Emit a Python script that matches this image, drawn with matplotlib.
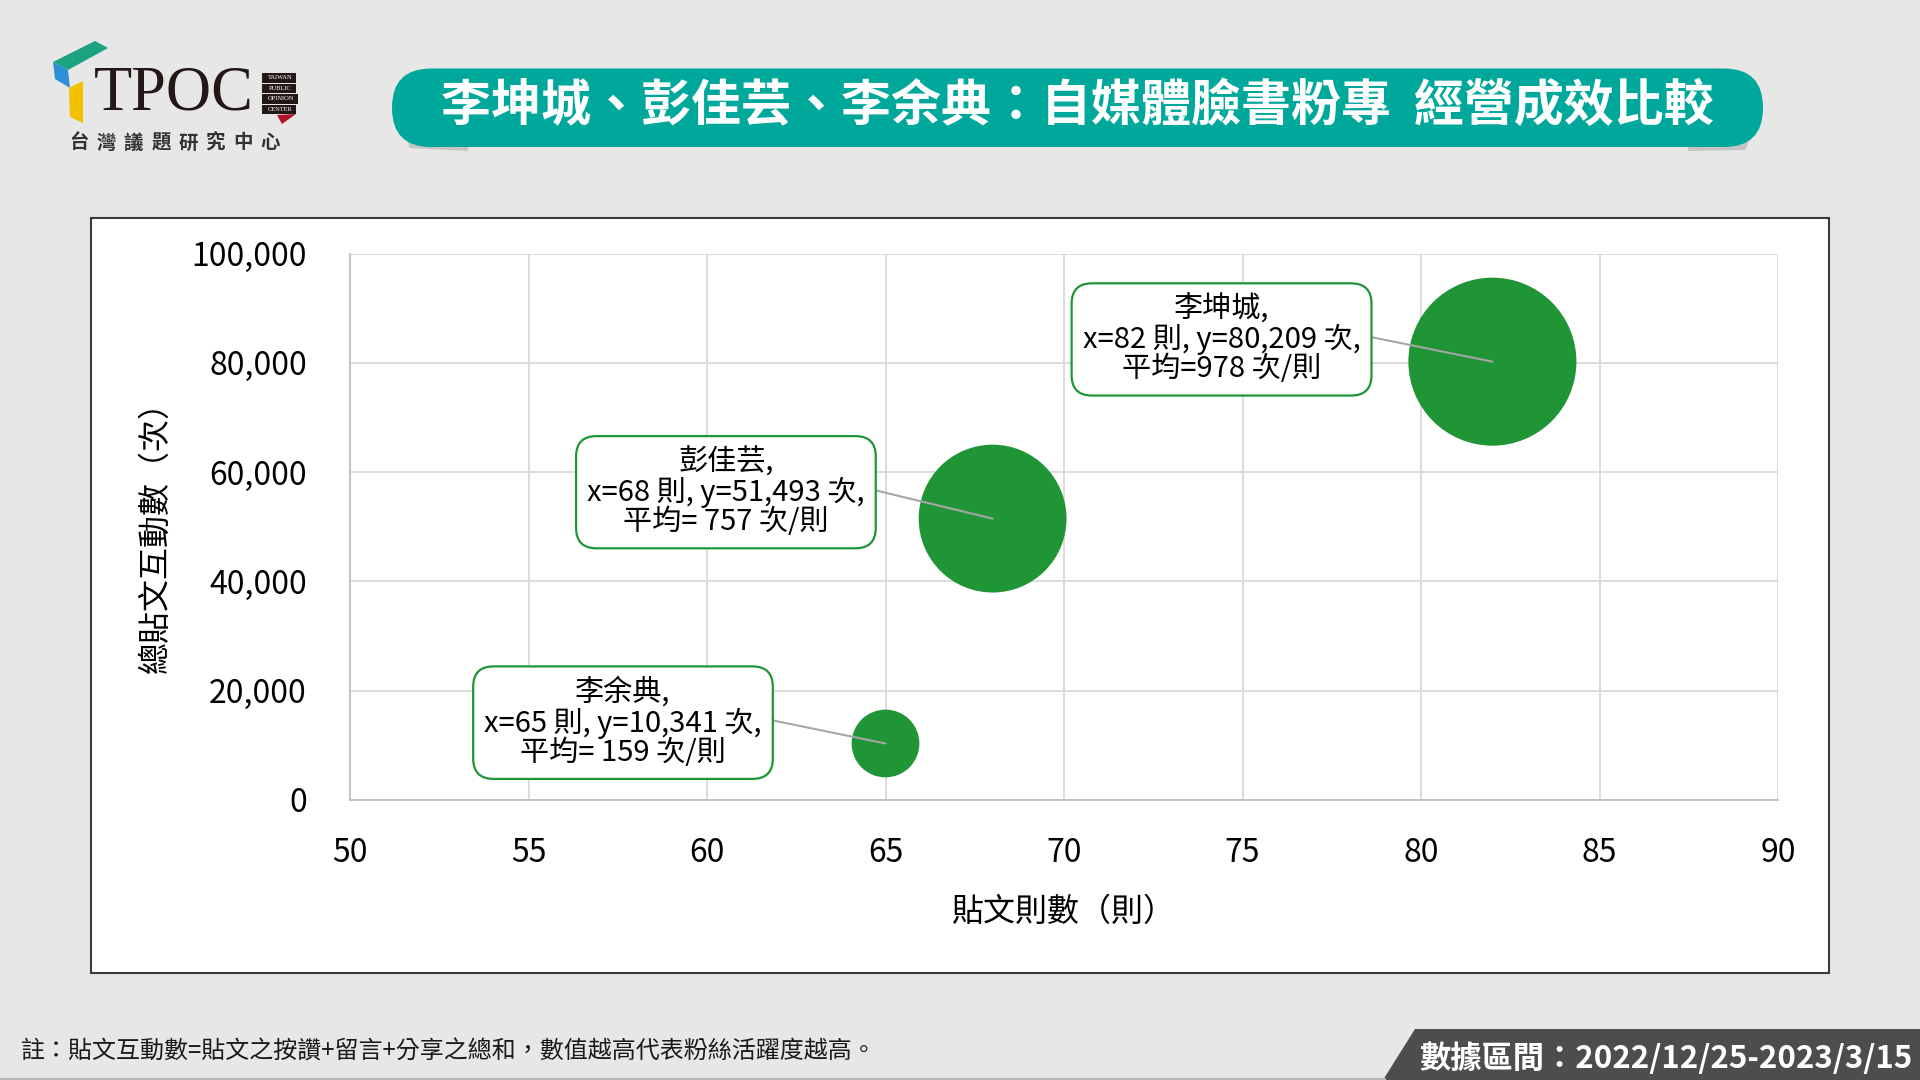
# coding=utf-8
#
# Description: TPOC bubble chart - posts vs. interactions (bubble = avg per post)
#
import numpy as np
import matplotlib as mpl
import matplotlib.pyplot as plt
from matplotlib.patches import FancyBboxPatch, Polygon, Rectangle
from matplotlib.ticker import FuncFormatter

mpl.rcParams['font.family'] = ['Noto Sans CJK TC', 'DejaVu Sans']

# Data
names = ['李坤城', '彭佳芸', '李余典']
posts = [82, 68, 65]
interactions = [80209, 51493, 10341]
avg_per_post = [978, 757, 159]
avg_text = ['978', ' 757', ' 159']

title = '李坤城、彭佳芸、李余典：自媒體臉書粉專  經營成效比較'
xlabel = '貼文則數（則）'
ylabel = '總貼文互動數（次）'
note = '註：貼文互動數=貼文之按讚+留言+分享之總和，數值越高代表粉絲活躍度越高。'
period = '數據區間：2022/12/25-2023/3/15'
x_ticks = [50, 55, 60, 65, 70, 75, 80, 85, 90]
y_ticks = [0, 20000, 40000, 60000, 80000, 100000]

if __name__ == '__main__':

    bg = '#E7E7E7'
    teal = '#00A79B'
    green = '#209536'

    fig = plt.figure(figsize=(19.2, 10.8), dpi=100, facecolor=bg)

    #
    # Decoration layer in pixel coordinates
    #
    deco = fig.add_axes([0, 0, 1, 1])
    deco.set_xlim(0, 1920)
    deco.set_ylim(1080, 0)
    deco.axis('off')

    # Logo shapes
    deco.add_patch(Polygon([(53, 62), (95, 41), (108, 48), (68, 70)], closed=True, color='#1BA37F', lw=0))
    deco.add_patch(Polygon([(53, 62), (68, 70), (70, 88), (55, 79)], closed=True, color='#2E8FD6', lw=0))
    deco.add_patch(Polygon([(69, 88), (83, 81), (83, 123), (70, 117)], closed=True, color='#F2C200', lw=0))
    deco.text(94, 94, 'TPOC', family='Liberation Serif', fontsize=45, color='#231815', ha='left', va='center')
    for i, w in enumerate(['TAIWAN', 'PUBLIC', 'OPINION', 'CENTER']):
        y0 = 73 + i * 10.5
        deco.add_patch(Rectangle((262, y0), 34 if i != 2 else 36, 9.5, color='#231815', lw=0))
        deco.text(263 + (17 if i != 2 else 18), y0 + 4.9, w, family='Liberation Serif', fontsize=4.6,
                  color='white', ha='center', va='center')
    deco.add_patch(Polygon([(277, 115), (296, 114), (282, 124)], closed=True, color='#B3122B', lw=0))
    for i, ch in enumerate('台灣議題研究中心'):
        deco.text(79 + i * 27.3, 143, ch, fontsize=14, weight='bold', color='#333333', ha='center', va='center')

    # Title banner with shadows
    deco.add_patch(Polygon([(402, 128), (470, 128), (468, 151), (410, 148)], closed=True,
                           color='#9A9A9A', alpha=0.45, lw=0))
    deco.add_patch(Polygon([(1690, 128), (1755, 128), (1745, 150), (1688, 151)], closed=True,
                           color='#9A9A9A', alpha=0.45, lw=0))
    deco.add_patch(FancyBboxPatch((392, 68.5), 1371, 78.5,
                                  boxstyle='round,pad=0,rounding_size=39', color=teal, lw=0))
    deco.text(1077, 106, title, fontsize=36, weight='bold', color='white', ha='center', va='center')

    # Chart frame
    deco.add_patch(Rectangle((91, 218), 1738, 755, facecolor='white', edgecolor='#3A3A3A', lw=1.5))

    # Footer
    deco.text(21, 1052, note, fontsize=17.3, color='#1A1A1A', ha='left', va='center')
    deco.plot([0, 1385], [1078.5, 1078.5], color='#B5B5B5', lw=1.5)
    deco.add_patch(Polygon([(1415, 1029), (1920, 1029), (1920, 1080), (1383, 1080)], closed=True,
                           color='#4D4D4D', lw=0))
    deco.text(1913, 1059, period, fontsize=22.5, weight='bold', color='white', ha='right', va='center')

    #
    # Plot
    #
    ax = fig.add_axes([350 / 1920, 1 - 800 / 1080, 1428 / 1920, 546.5 / 1080])
    ax.set_facecolor('white')

    sizes = np.array(avg_per_post) / max(avg_per_post) * 121 ** 2
    ax.scatter(posts, interactions, s=sizes, color=green, edgecolors='none', zorder=5, clip_on=False)

    offsets = [(-195, 16), (-192, 19), (-189, 15)]
    for name, x, y, a, off in zip(names, posts, interactions, avg_text, offsets):
        label = '{},\nx={} 則, y={:,} 次,\n平均={} 次/則'.format(name, x, y, a)
        ax.annotate(
            label, xy=(x, y), xytext=off, textcoords='offset points',
            ha='center', va='center', multialignment='center', fontsize=21, linespacing=0.97,
            color='black', zorder=6,
            bbox=dict(boxstyle='round,pad=0.38,rounding_size=0.7', facecolor='white', edgecolor=green, lw=1.6),
            arrowprops=dict(arrowstyle='-', color='#A6A6A6', lw=1.5, shrinkA=0, shrinkB=0, relpos=(1, 0.55)))

    ax.set_xlim(50, 90)
    ax.set_ylim(0, 100000)
    ax.set_xticks(x_ticks)
    ax.set_yticks(y_ticks)
    ax.yaxis.set_major_formatter(FuncFormatter(lambda v, p: '{:,.0f}'.format(v)))
    ax.tick_params(axis='both', length=0, labelsize=23, colors='black')
    ax.tick_params(axis='y', pad=31)
    ax.tick_params(axis='x', pad=27)
    ax.grid(color='#D9D9D9', lw=1.3, zorder=0)
    ax.set_axisbelow(True)
    for s in ['top', 'right']:
        ax.spines[s].set_visible(False)
    for s in ['left', 'bottom']:
        ax.spines[s].set_color('#BFBFBF')
        ax.spines[s].set_linewidth(1.3)

    ax.set_xlabel(xlabel, fontsize=23, va='center')
    ax.xaxis.set_label_coords(0.5, -0.205)
    ax.set_ylabel(ylabel, fontsize=23, va='center')
    ax.yaxis.set_label_coords(-0.136, 0.495)

    fig.savefig('out.png', dpi=100, facecolor=bg)
    plt.close()
